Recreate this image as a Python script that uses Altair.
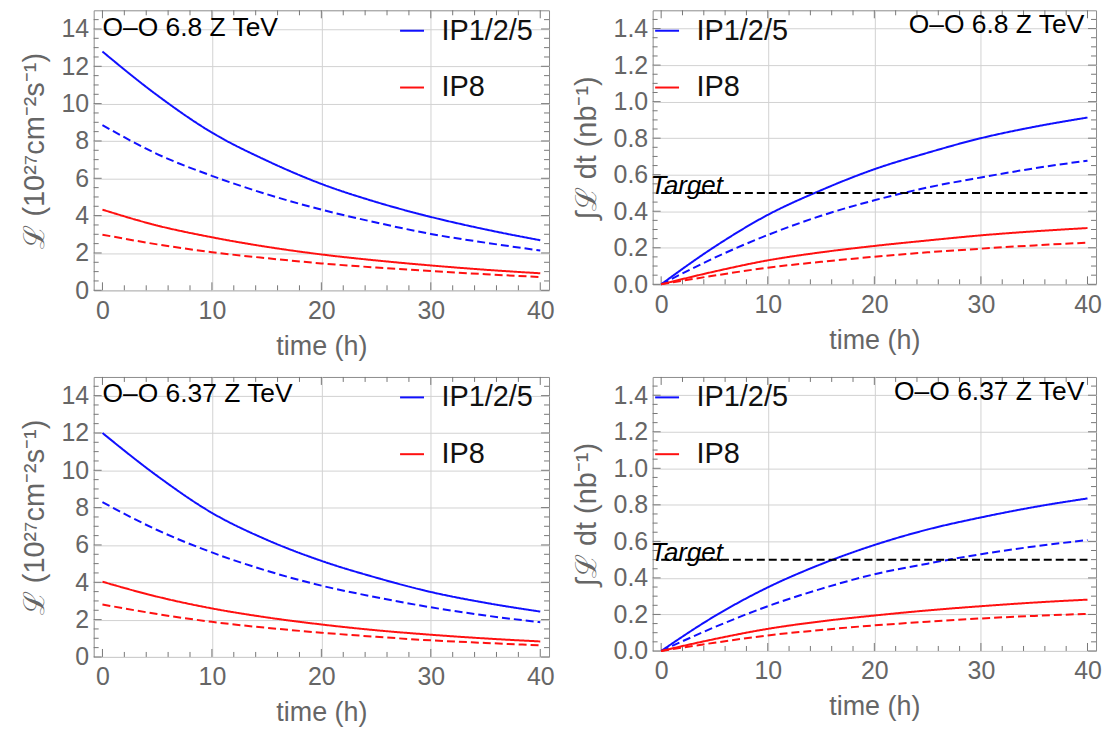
import altair as alt
import pandas as pd

# ---------------- data ----------------
t = [0, 5, 10, 15, 20, 25, 30, 35, 40]
ips = ["IP1/2/5", "IP8"]
cases = ["solid", "dashed"]

# O-O 6.8 Z TeV : luminosity (10^27 cm^-2 s^-1)
lumi68_ip125_solid = [12.79, 10.45, 8.45, 6.95, 5.70, 4.73, 3.93, 3.26, 2.68]
lumi68_ip125_dashed = [8.85, 7.3, 6.13, 5.15, 4.32, 3.63, 3.02, 2.55, 2.13]
lumi68_ip8_solid = [4.32, 3.47, 2.84, 2.33, 1.92, 1.6, 1.33, 1.1, 0.91]
lumi68_ip8_dashed = [2.98, 2.46, 2.04, 1.72, 1.44, 1.22, 1.03, 0.86, 0.71]

# O-O 6.8 Z TeV : integrated luminosity (nb^-1)
int68_ip125_solid = [0, 0.205, 0.38, 0.515, 0.63, 0.72, 0.80, 0.862, 0.913]
int68_ip125_dashed = [0, 0.145, 0.27, 0.375, 0.46, 0.53, 0.585, 0.635, 0.677]
int68_ip8_solid = [0, 0.07, 0.131, 0.175, 0.21, 0.24, 0.268, 0.29, 0.308]
int68_ip8_dashed = [0, 0.048, 0.091, 0.123, 0.151, 0.175, 0.195, 0.213, 0.228]

# O-O 6.37 Z TeV : luminosity
lumi637_ip125_solid = [12.0, 9.7, 7.72, 6.28, 5.15, 4.25, 3.48, 2.9, 2.43]
lumi637_ip125_dashed = [8.29, 6.8, 5.6, 4.62, 3.82, 3.2, 2.66, 2.22, 1.86]
lumi637_ip8_solid = [4.03, 3.23, 2.6, 2.12, 1.74, 1.43, 1.19, 0.99, 0.83]
lumi637_ip8_dashed = [2.81, 2.3, 1.88, 1.56, 1.30, 1.08, 0.89, 0.75, 0.62]

# O-O 6.37 Z TeV : integrated luminosity
int637_ip125_solid = [0, 0.19, 0.348, 0.475, 0.58, 0.665, 0.731, 0.788, 0.835]
int637_ip125_dashed = [0, 0.13, 0.245, 0.34, 0.42, 0.478, 0.53, 0.572, 0.607]
int637_ip8_solid = [0, 0.065, 0.121, 0.162, 0.194, 0.222, 0.245, 0.265, 0.281]
int637_ip8_dashed = [0, 0.045, 0.085, 0.115, 0.14, 0.16, 0.178, 0.192, 0.203]

target_value = 0.5
energy_labels = ["O\u2013O 6.8 Z TeV", "O\u2013O 6.37 Z TeV"]

x_major = [0, 10, 20, 30, 40]
x_minor = [v for v in range(2, 40, 2) if v % 10]
lumi_major = [0, 2, 4, 6, 8, 10, 12, 14]
lumi_minor = [i * 0.5 for i in range(1, 30) if i % 4]
int_major = [0, 0.2, 0.4, 0.6, 0.8, 1.0, 1.2, 1.4]
int_minor = [round(i * 0.05, 2) for i in range(1, 30) if i % 4]

# ---------------- styling ----------------
BLUE = "#1010ff"
RED = "#ff1010"
FRAME = "#8c8c8c"
TICK = "#777777"
GRID = "#d2d2d2"
LABEL = "#666666"
FONT = "Liberation Sans"


def make_df(series):
    rows = []
    for (ip, case), vals in series:
        for ti, v in zip(t, vals):
            rows.append({"t": ti, "v": v, "ip": ip, "case": case})
    return pd.DataFrame(rows)


def panel(series, kind, energy, W, H, legend_x, text_pos, text_align):
    df = make_df(series)
    if kind == "lumi":
        ydom = [0, 15]
        ymaj, ymin = lumi_major, lumi_minor
        ytitle = "\u2112 (10\u00b2\u2077cm\u207b\u00b2s\u207b\u00b9)"
        yfmt = "d"
    else:
        ydom = [0, 1.5]
        ymaj, ymin = int_major, int_minor
        ytitle = "\u222b\u2112 dt (nb\u207b\u00b9)"
        yfmt = ".1f"

    xscale = alt.Scale(domain=[-0.8, 40.8], nice=False, zero=False)
    yscale = alt.Scale(domain=ydom, nice=False, zero=False)
    X = alt.X(
        "t:Q", scale=xscale,
        axis=alt.Axis(
            values=x_major, title="time (h)", grid=True, gridColor=GRID,
            gridOpacity={"condition": {"test": "datum.value <= 0 || datum.value >= 40", "value": 0}, "value": 1},
            ticks=False, domain=False, labelPadding=8, titlePadding=10,
            labelFontSize=25, titleFontSize=27, labelFont=FONT, titleFont=FONT,
            labelColor=LABEL, titleColor=LABEL, titleFontWeight="normal",
        ),
    )
    Y = alt.Y(
        "v:Q", scale=yscale,
        axis=alt.Axis(
            values=ymaj, title=ytitle, grid=True, gridColor=GRID, format=yfmt,
            ticks=False, domain=False, labelPadding=5, titlePadding=12,
            labelFontSize=25, titleFontSize=29, labelFont=FONT, titleFont=FONT,
            labelColor=LABEL, titleColor=LABEL, titleFontWeight="normal",
        ),
    )

    lines = alt.Chart(df).mark_line(strokeWidth=2, interpolate="monotone").encode(
        x=X, y=Y,
        color=alt.Color(
            "ip:N", scale=alt.Scale(domain=ips, range=[BLUE, RED]),
            legend=alt.Legend(
                title=None, orient="none", legendX=legend_x, legendY=6,
                symbolType="stroke", symbolSize=576, symbolStrokeWidth=2,
                labelFontSize=29, labelFont=FONT, labelColor="#111111",
                labelOffset=15, rowPadding=27, padding=0, labelLimit=300,
            ),
        ),
        strokeDash=alt.StrokeDash(
            "case:N", scale=alt.Scale(domain=cases, range=[[1, 0], [8, 4]]), legend=None
        ),
    )

    layers = []

    # frame ticks (drawn inside the frame, like the reference)
    def xt(vals, L, top):
        d = pd.DataFrame({"t": vals})
        y0, y1 = (0, L) if top else (H, H - L)
        return alt.Chart(d).mark_rule(strokeWidth=1, color=TICK).encode(
            x=X, y=alt.value(y0), y2=alt.value(y1))

    def yt(vals, L, right):
        d = pd.DataFrame({"v": vals})
        x0, x1 = (W, W - L) if right else (0, L)
        return alt.Chart(d).mark_rule(strokeWidth=1, color=TICK).encode(
            y=Y, x=alt.value(x0), x2=alt.value(x1))

    for top in (False, True):
        layers.append(xt(x_major, 8, top))
        layers.append(xt(x_minor, 5, top))
    for right in (False, True):
        layers.append(yt(ymaj, 8, right))
        layers.append(yt(ymin, 5, right))

    layers.append(lines)

    if kind == "int":
        tdf = pd.DataFrame({"t": [0], "t2": [40], "v": [target_value], "label": ["Target"]})
        layers.append(
            alt.Chart(tdf).mark_rule(color="black", strokeWidth=2, strokeDash=[8, 4]).encode(
                x=X, x2="t2:Q", y=Y)
        )
        layers.append(
            alt.Chart(tdf.assign(t=-1.0)).mark_text(
                align="left", baseline="alphabetic", fontStyle="italic", fontSize=26,
                font=FONT, color="black", dy=1,
            ).encode(x=X, y=Y, text="label:N")
        )

    edf = pd.DataFrame({"t": [text_pos[0]], "v": [text_pos[1]], "label": [energy]})
    layers.append(
        alt.Chart(edf).mark_text(align=text_align, baseline="alphabetic", fontSize=26.5,
                                 font=FONT, color="black").encode(x=X, y=Y, text="label:N")
    )

    return alt.layer(*layers).properties(width=W, height=H)


p1 = panel([(("IP1/2/5", "solid"), lumi68_ip125_solid), (("IP1/2/5", "dashed"), lumi68_ip125_dashed),
            (("IP8", "solid"), lumi68_ip8_solid), (("IP8", "dashed"), lumi68_ip8_dashed)],
           "lumi", energy_labels[0], 457, 281, 305, (0.0, 13.65), "left")
p2 = panel([(("IP1/2/5", "solid"), int68_ip125_solid), (("IP1/2/5", "dashed"), int68_ip125_dashed),
            (("IP8", "solid"), int68_ip8_solid), (("IP8", "dashed"), int68_ip8_dashed)],
           "int", energy_labels[0], 445, 275, 0, (39.7, 1.375), "right")
p3 = panel([(("IP1/2/5", "solid"), lumi637_ip125_solid), (("IP1/2/5", "dashed"), lumi637_ip125_dashed),
            (("IP8", "solid"), lumi637_ip8_solid), (("IP8", "dashed"), lumi637_ip8_dashed)],
           "lumi", energy_labels[1], 457, 281, 305, (0.0, 13.65), "left")
p4 = panel([(("IP1/2/5", "solid"), int637_ip125_solid), (("IP1/2/5", "dashed"), int637_ip125_dashed),
            (("IP8", "solid"), int637_ip8_solid), (("IP8", "dashed"), int637_ip8_dashed)],
           "int", energy_labels[1], 445, 275, 0, (39.7, 1.375), "right")

chart = alt.concat(p1, p2, p3, p4, columns=2, spacing={"row": 87, "column": 104}, bounds="flush").resolve_scale(
    x="independent", y="independent", color="independent", strokeDash="independent"
).resolve_legend(color="independent").configure_view(
    stroke=FRAME, strokeWidth=1
).properties(padding={"left": 11, "top": 0, "right": 0, "bottom": 0}, background="white")

chart.save("out.html", embed_options={"renderer": "svg", "actions": False})
